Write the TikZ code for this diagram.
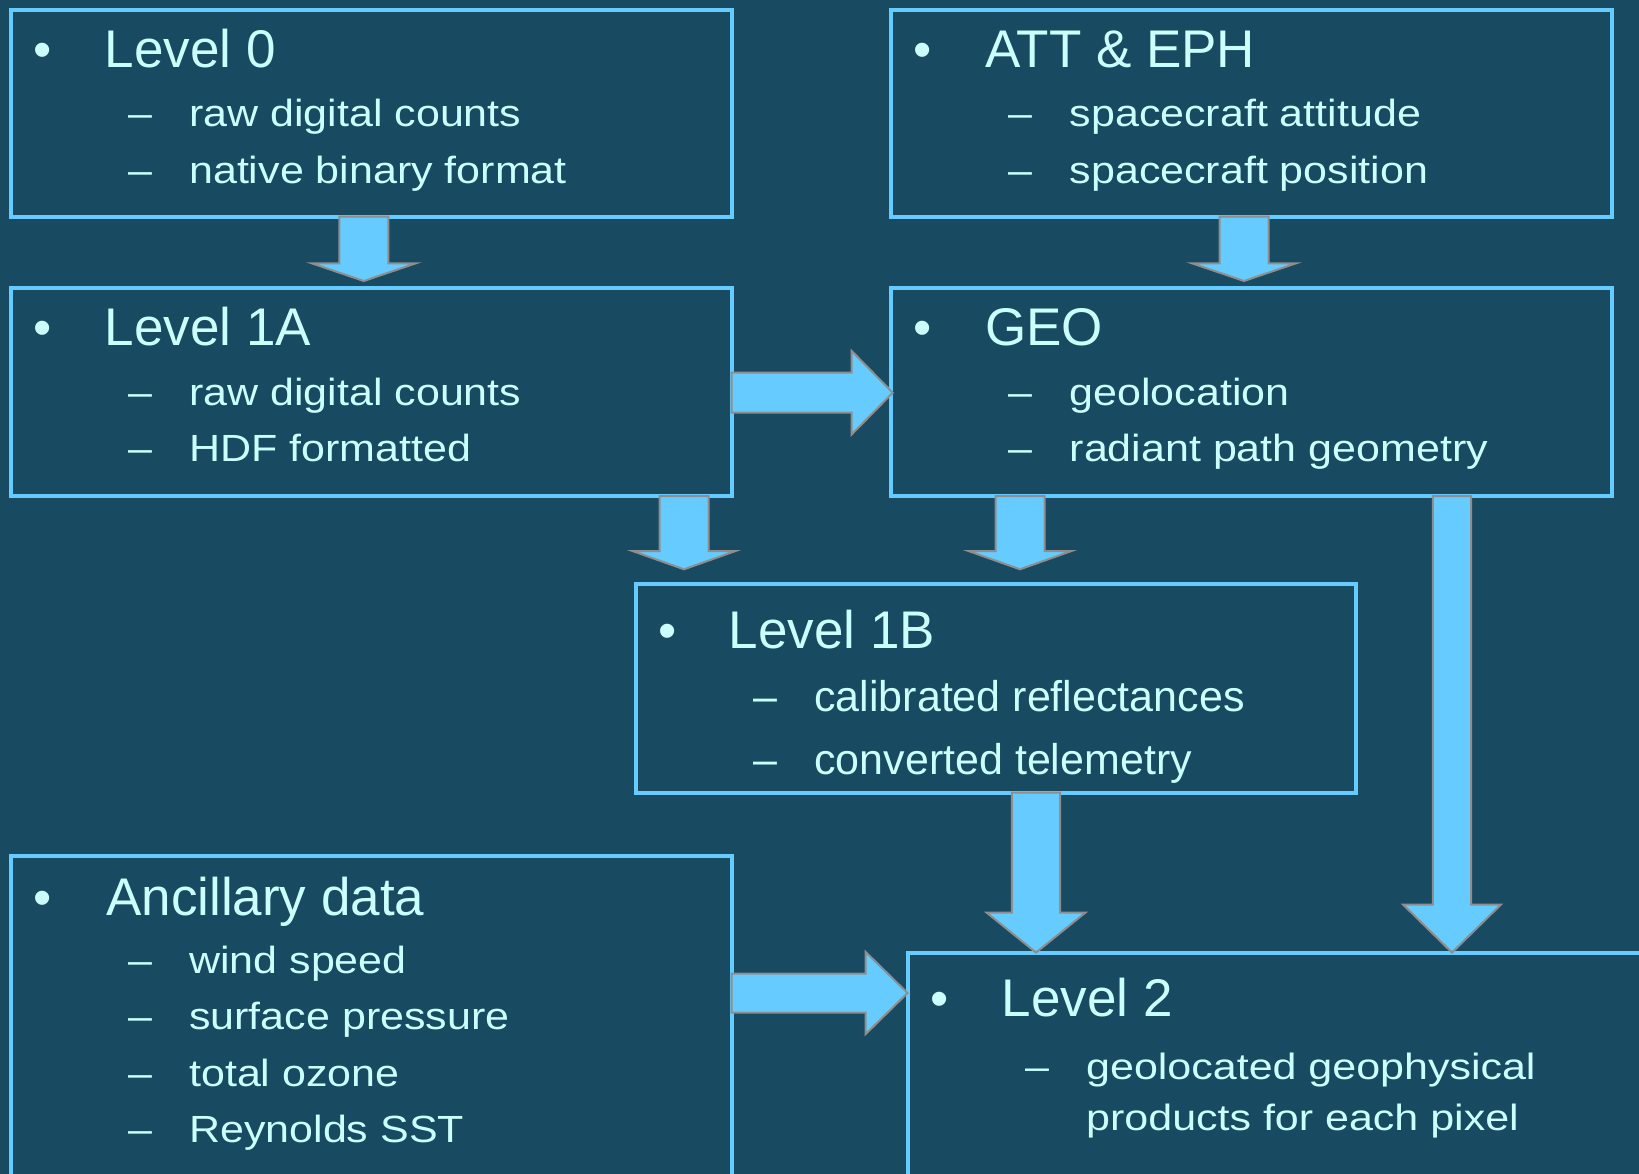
\documentclass[tikz,border=0pt]{standalone}
\usepackage{fontspec}
\setmainfont{Liberation Sans}
\usetikzlibrary{calc}
\definecolor{bg}{HTML}{184A62}
\definecolor{edge}{HTML}{66CCFF}
\definecolor{txt}{HTML}{CCFFFF}
\definecolor{agray}{HTML}{8E8E8E}
\tikzset{
 box/.style={draw=edge, line width=4pt, inner sep=0pt, outer sep=0pt, anchor=north west, rectangle},
 blk/.style={fill=edge, draw=agray, line width=2pt, line join=miter},
 ttl/.style={text=txt, anchor=base west, inner sep=0pt, font=\fontsize{53}{53}\selectfont},
 bul/.style={text=txt, anchor=base, inner sep=0pt, font=\fontsize{52}{52}\selectfont},
 sub/.style={text=txt, anchor=base west, inner sep=0pt, font=\fontsize{43}{43}\selectfont},
}
% down block arrow: #1 tail, #2 tip, #3 half shaft, #4 half head, #5 head length
\newcommand\blkdown[5]{%
 \draw[blk] let \p1=(#1), \p2=(#2) in
 (\x2-#3,\y1) -- (\x2+#3,\y1) -- (\x2+#3,\y2+#5) -- (\x2+#4,\y2+#5) -- (\x2,\y2)
 -- (\x2-#4,\y2+#5) -- (\x2-#3,\y2+#5) -- cycle;}
% right block arrow
\newcommand\blkright[5]{%
 \draw[blk] let \p1=(#1), \p2=(#2) in
 (\x1,\y2+#3) -- (\x2-#5,\y2+#3) -- (\x2-#5,\y2+#4) -- (\x2,\y2) -- (\x2-#5,\y2-#4)
 -- (\x2-#5,\y2-#3) -- (\x1,\y2-#3) -- cycle;}
% title line: #1 box, #2 prefix, #3 dy, #4 dx title, #5 text
\newcommand\titleline[5]{%
 \node[bul] (#2b) at ($(#1.north west)+(32,#3)$) {•};
 \node[ttl] (#2t) at ($(#1.north west)+(#4,#3)$) {#5};}
% sub line: #1 box, #2 prefix, #3 dy, #4 yscale, #5 text
\newcommand\subline[5]{%
 \node[sub] (#2d) at ($(#1.north west)+(117.5,#3)$) {\scalebox{1}[#4]{–}};
 \node[sub] (#2s) at ($(#1.north west)+(178.5,#3)$) {\scalebox{1}[#4]{#5}};}

\begin{document}
\begin{tikzpicture}[x=1pt,y=-1pt]
\useasboundingbox (0,0) rectangle (1639,1174);
\clip (0,0) rectangle (1639,1174);
\fill[bg] (0,0) rectangle (1639,1174);

% boxes
\node[box, minimum width=721pt, minimum height=206.7pt] (l0) at (10.5,10) {};
\node[box, minimum width=721pt, minimum height=206.7pt] (att) at (891,10) {};
\node[box, minimum width=721pt, minimum height=207.7pt] (l1a) at (10.5,288.3) {};
\node[box, minimum width=721pt, minimum height=207.7pt] (geo) at (891,288.3) {};
\node[box, minimum width=720.3pt, minimum height=208.4pt] (l1b) at (635.7,584.3) {};
\node[box, minimum width=721pt, minimum height=500pt] (anc) at (10.5,856) {};
\node[box, minimum width=900pt, minimum height=400pt] (l2) at (907.5,952.5) {};

% arrow end points
\coordinate (a1s) at ($(l0.south west)+(353.3,0)$);
\coordinate (a1e) at ($(l1a.north west)+(353.3,-7.3)$);
\coordinate (a2s) at ($(att.south west)+(353,0)$);
\coordinate (a2e) at ($(geo.north west)+(353,-7.3)$);
\coordinate (a3s) at ($(l1a.north east)+(0,104.4)$);
\coordinate (a3e) at ($(geo.north west)+(1.7,104.4)$);
\coordinate (a4s) at ($(l1a.south west)+(673.5,0)$);
\coordinate (a4e) at ($(l1b.north west)+(48.3,-15)$);
\coordinate (a5s) at ($(geo.south west)+(129,0)$);
\coordinate (a5e) at ($(l1b.north west)+(384.3,-15)$);
\coordinate (a6s) at ($(l1b.south west)+(400.3,0)$);
\coordinate (a6e) at ($(l2.north west)+(128.5,0)$);
\coordinate (a7s) at ($(geo.south west)+(561,0)$);
\coordinate (a7e) at ($(l2.north west)+(544.5,0)$);
\coordinate (a8s) at ($(anc.north east)+(0,137)$);
\coordinate (a8e) at ($(l2.north west)+(0,40.5)$);

\blkdown{a1s}{a1e}{24.5}{52}{17.7}
\blkdown{a2s}{a2e}{24.5}{52}{17.7}
\blkright{a3s}{a3e}{20}{41.7}{41}
\blkdown{a4s}{a4e}{24.5}{51.5}{18.3}
\blkdown{a5s}{a5e}{24.5}{51.5}{18.3}
\blkdown{a6s}{a6e}{24.1}{49.5}{40}
\blkdown{a7s}{a7e}{19.1}{49}{48}
\blkright{a8s}{a8e}{19.5}{41}{41.8}

% texts
\titleline{l0}{l0x}{57.5}{94}{Level 0}
\subline{l0}{l0p}{117}{0.88}{raw digital counts}
\subline{l0}{l0q}{173.5}{0.88}{native binary format}

\titleline{att}{attx}{57.5}{94}{ATT \& EPH}
\subline{att}{attp}{117}{0.88}{spacecraft attitude}
\subline{att}{attq}{173.5}{0.88}{spacecraft position}

\titleline{l1a}{l1ax}{57.5}{94}{Level 1A}
\subline{l1a}{l1ap}{117}{0.88}{raw digital counts}
\subline{l1a}{l1aq}{173.5}{0.88}{HDF formatted}

\titleline{geo}{geox}{57.5}{94}{GEO}
\subline{geo}{geop}{117}{0.88}{geolocation}
\subline{geo}{geoq}{173.5}{0.88}{radiant path geometry}

\titleline{l1b}{l1bx}{64}{93}{Level 1B}
\subline{l1b}{l1bp}{127.4}{1}{calibrated reflectances}
\subline{l1b}{l1bq}{189.7}{1}{converted telemetry}

\titleline{anc}{ancx}{59}{95.5}{Ancillary data}
\subline{anc}{ancp}{117}{0.88}{wind speed}
\subline{anc}{ancq}{173.5}{0.88}{surface pressure}
\subline{anc}{ancr}{230}{0.88}{total ozone}
\subline{anc}{ancs}{286.5}{0.88}{Reynolds SST}

\titleline{l2}{l2x}{63.5}{94}{Level 2}
\subline{l2}{l2p}{127}{0.85}{geolocated geophysical}
\node[sub] (l2r) at ($(l2.north west)+(178.5,178)$) {\scalebox{1}[0.85]{products for each pixel}};
\end{tikzpicture}
\end{document}
